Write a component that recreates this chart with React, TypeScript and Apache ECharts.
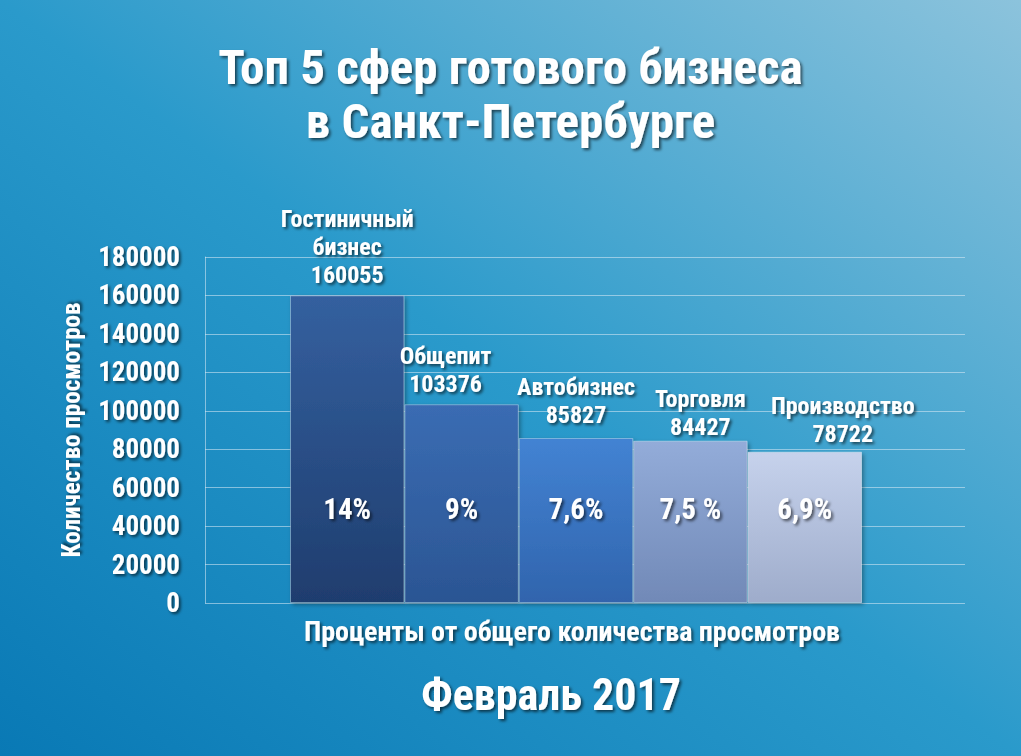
import React, { useEffect, useRef } from "react";
import * as echarts from "echarts";

const categories = ["Гостиничный\nбизнес", "Общепит", "Автобизнес", "Торговля", "Производство"];
const views = [160055, 103376, 85827, 84427, 78722];
const percents = ["14%", "9%", "7,6%", "7,5 %", "6,9%"];
const yTicks = { min: 0, max: 180000, interval: 20000 };
const barColors = [
  ["#34609f", "#1f3d6e"],
  ["#3a6cb3", "#2b5593"],
  ["#4383d3", "#3064ad"],
  ["#93acd9", "#7189b7"],
  ["#c6d2ec", "#9eaccb"],
];
const labelOffsets = [
  [0, 0],
  [-16, 0],
  [0, -3],
  [10, 6],
  [38, 2],
];

const FONT = "'Roboto Condensed', 'Liberation Sans Narrow', 'DejaVu Sans Condensed', Roboto, sans-serif";
const shadow = {
  textShadowColor: "rgba(0,0,0,0.6)",
  textShadowBlur: 3,
  textShadowOffsetX: 2,
  textShadowOffsetY: 2,
};

export default function App() {
  const ref = useRef<HTMLDivElement>(null);
  useEffect(() => {
    if (!ref.current) return;
    const chart = echarts.init(ref.current, null, { renderer: "svg" });
    const grad = (c: string[]) =>
      new echarts.graphic.LinearGradient(0, 0, 0, 1, [
        { offset: 0, color: c[0] },
        { offset: 1, color: c[1] },
      ]);
    chart.setOption({
      animation: false,
      backgroundColor: new echarts.graphic.LinearGradient(0, 1, 1, 0, [
        { offset: 0, color: "#0979b5" },
        { offset: 0.5, color: "#2a9acb" },
        { offset: 1, color: "#8cc3dc" },
      ]),
      title: [
        {
          text: "Топ 5 сфер готового бизнеса\nв Санкт-Петербурге",
          left: "center",
          top: 35,
          textStyle: {
            color: "#fff",
            fontFamily: FONT,
            fontWeight: "bold",
            fontSize: 49,
            lineHeight: 54,
            ...shadow,
          },
        },
        {
          text: "Февраль 2017",
          left: 546,
          textAlign: "center",
          top: 668,
          textStyle: {
            color: "#fff",
            fontFamily: FONT,
            fontWeight: "bold",
            fontSize: 44,
            ...shadow,
          },
        },
      ],
      grid: [
        { left: 205, right: 56, top: 257, bottom: 153, containLabel: false },
        { left: 290, width: 572, top: 257, bottom: 153, containLabel: false },
      ],
      xAxis: [
        {
          gridIndex: 0,
          type: "value",
          min: 0,
          max: 1,
          show: true,
          axisLine: { show: false },
          axisTick: { show: false },
          axisLabel: { show: false },
          splitLine: { show: false },
          name: "Проценты от общего количества просмотров",
          nameLocation: "middle",
          nameGap: 14,
          nameTextStyle: {
            color: "#fff",
            fontFamily: FONT,
            fontWeight: "bold",
            fontSize: 28,
            padding: [0, 26, 0, 0],
            ...shadow,
          },
        },
        {
          gridIndex: 1,
          type: "category",
          data: categories,
          show: false,
        },
      ],
      yAxis: [
        {
          gridIndex: 0,
          type: "value",
          ...yTicks,
          axisLine: { show: true, lineStyle: { color: "rgba(220,235,245,0.55)", width: 1 } },
          axisTick: { show: false },
          splitLine: { show: true, lineStyle: { color: "rgba(220,235,245,0.55)", width: 1 } },
          axisLabel: {
            color: "#fff",
            fontFamily: FONT,
            fontWeight: "bold",
            fontSize: 27,
            margin: 25,
            formatter: (v: number) => String(v),
            ...shadow,
          },
          name: "Количество просмотров",
          nameLocation: "middle",
          nameRotate: 90,
          nameGap: 121,
          nameTextStyle: {
            color: "#fff",
            fontFamily: FONT,
            fontWeight: "bold",
            fontSize: 25,
            ...shadow,
          },
        },
        {
          gridIndex: 1,
          type: "value",
          ...yTicks,
          show: false,
          splitLine: { show: false },
        },
      ],
      series: [
        {
          type: "bar",
          xAxisIndex: 1,
          yAxisIndex: 1,
          barCategoryGap: 0,
          data: views.map((v, i) => ({
            value: v,
            itemStyle: { color: grad(barColors[i]) },
            label: { offset: labelOffsets[i] },
          })),
          itemStyle: {
            borderColor: "rgba(255,255,255,0.35)",
            borderWidth: 1,
            shadowColor: "rgba(0,0,0,0.35)",
            shadowBlur: 4,
            shadowOffsetX: 2,
            shadowOffsetY: 2,
          },
          label: {
            show: true,
            position: "top",
            distance: 6,
            formatter: (p: any) => `${categories[p.dataIndex]}\n${p.value}`,
            color: "#fff",
            fontFamily: FONT,
            fontWeight: "bold",
            fontSize: 24,
            lineHeight: 28,
            ...shadow,
          },
        },
        {
          type: "bar",
          xAxisIndex: 1,
          yAxisIndex: 1,
          barCategoryGap: 0,
          barGap: "-100%",
          data: views,
          itemStyle: { color: "rgba(0,0,0,0)" },
          silent: true,
          label: {
            show: true,
            position: "insideBottom",
            distance: 80,
            formatter: (p: any) => percents[p.dataIndex],
            color: "#fff",
            fontFamily: FONT,
            fontWeight: "bold",
            fontSize: 29,
            ...shadow,
          },
        },
      ],
    });
    return () => chart.dispose();
  }, []);
  return (
    <div
      ref={ref}
      style={{ position: "fixed", left: 0, top: 0, width: 1021, height: 756 }}
    />
  );
}
